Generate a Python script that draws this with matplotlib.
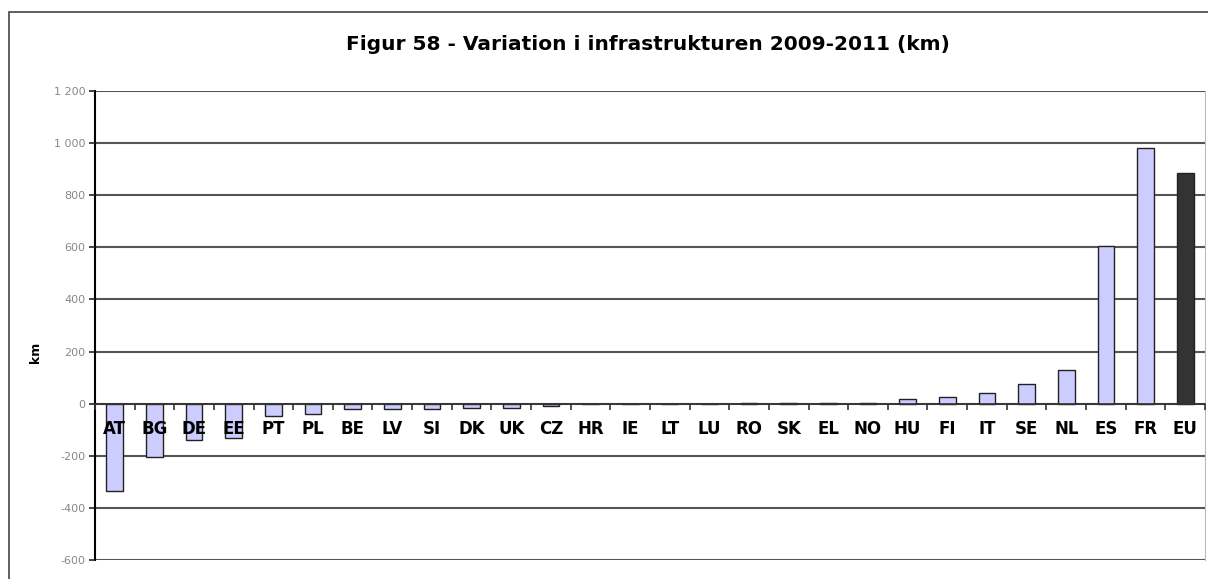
import numpy as np
import matplotlib.pyplot as plt
import matplotlib.patches as mpatches
import matplotlib.ticker as tkr

countries = ['AT', 'BG', 'DE', 'EE', 'PT', 'PL', 'BE', 'LV', 'SI', 'DK', 'UK', 'CZ',
             'HR', 'IE', 'LT', 'LU', 'RO', 'SK', 'EL', 'NO', 'HU', 'FI', 'IT', 'SE',
             'NL', 'ES', 'FR', 'EU']
km = [-335, -205, -138, -130, -49, -40, -20, -20, -20, -18, -18, -8,
      0, 0, 0, 0, 3, 3, 2, 2, 16, 25, 42, 77,
      129, 604, 982, 885]
yticks = [-600, -400, -200, 0, 200, 400, 600, 800, 1000, 1200]

fig = plt.figure(figsize=(12.08, 5.79), dpi=100)
fig.patch.set_facecolor('white')

# chart border (runs off the right/bottom edge like the original)
fig.patches.append(mpatches.Rectangle((9 / 1208, -0.1), 1.2, 1 - 12 / 579 + 0.1,
                                      transform=fig.transFigure, fill=False,
                                      edgecolor='#444444', linewidth=1.2))

ax = fig.add_axes([95 / 1208, 1 - 560 / 579, 1110 / 1208, 469 / 579])
ax.set_axisbelow(False)
x = np.arange(len(countries))
colors = ['#CCCCFF'] * (len(countries) - 1) + ['#333333']
ax.bar(x, km, width=0.42, color=colors, edgecolor='#222222', linewidth=1.0, zorder=2)

ax.set_xlim(-0.5, len(countries) - 0.5)
ax.set_ylim(-600, 1200)
ax.set_yticks(yticks)
ax.yaxis.set_major_formatter(tkr.FuncFormatter(lambda v, p: format(int(v), ',').replace(',', ' ')))
ax.tick_params(axis='y', labelsize=8, labelcolor='#888888', length=4, width=1.2,
               color='#222222', pad=3)
for v in yticks:
    ax.axhline(v, color='#555555', linewidth=1.5, zorder=1)

ax.spines['bottom'].set_position(('data', 0))
ax.spines['bottom'].set_color('#333333')
ax.spines['bottom'].set_linewidth(1.2)
ax.spines['left'].set_linewidth(1.5)
ax.spines['top'].set_visible(False)
ax.spines['right'].set_color('#bbbbbb')
ax.set_xticks(x)
ax.set_xticklabels(countries, fontsize=12, fontweight='bold')
ax.set_xticks(np.arange(len(countries) + 1) - 0.5, minor=True)
ax.tick_params(axis='x', which='major', length=0, pad=12)
ax.tick_params(axis='x', which='minor', length=4, width=1.2, color='#333333')

ax.set_ylabel('km', fontsize=9, fontweight='bold')
ax.yaxis.set_label_coords(-0.0477, 0.443)

fig.text(648 / 1208, 1 - 45 / 579, 'Figur 58 - Variation i infrastrukturen 2009-2011 (km)',
         ha='center', va='center', fontsize=14.5, fontweight='bold')

fig.savefig('out.png', dpi=100)
